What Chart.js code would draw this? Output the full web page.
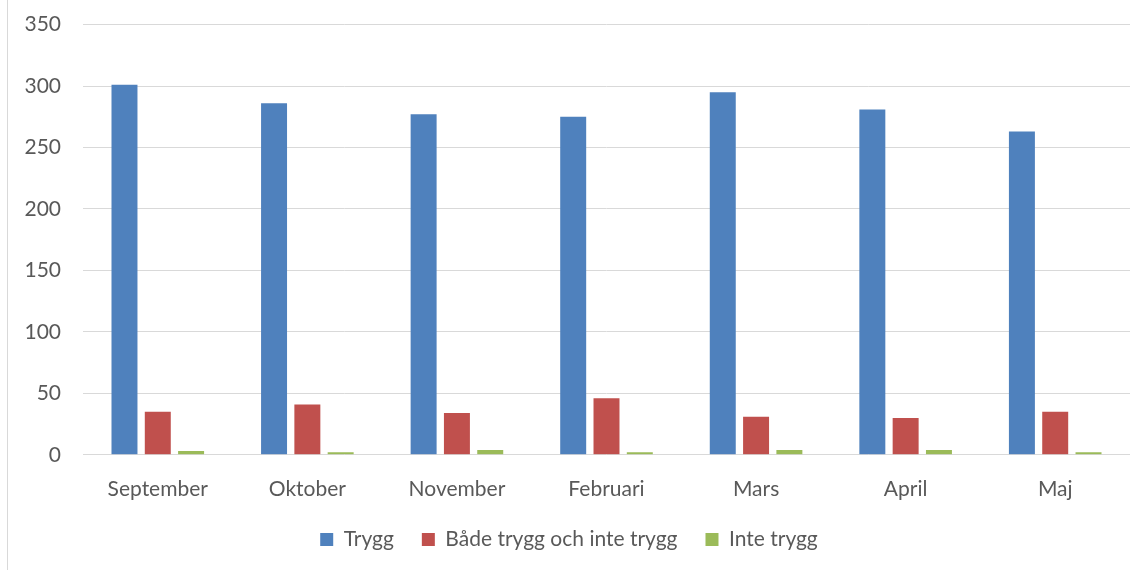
<!DOCTYPE html>
<html><head><meta charset="utf-8">
<script src="https://cdn.jsdelivr.net/npm/chart.js@4.4.1/dist/chart.umd.min.js"></script>
<style>
html,body{margin:0;padding:0;background:#fff;}
#wrap{position:absolute;left:7px;top:0;width:1138px;height:570px;border-left:1px solid #d9d9d9;}
canvas{display:block;}
</style></head>
<body>
<div id="wrap"><canvas id="c" width="1137" height="570"></canvas></div>
<script>
const categories = ["September","Oktober","November","Februari","Mars","April","Maj"];
const trygg = [301, 286, 277, 275, 295, 281, 263];
const badeTryggOchInte = [35, 41, 34, 46, 31, 30, 35];
const inteTrygg = [3, 2, 4, 2, 4, 4, 2];
const seriesNames = ["Trygg","Både trygg och inte trygg","Inte trygg"];
const yTicks = [0,50,100,150,200,250,300,350];

const font = "Lato, 'Open Sans', sans-serif";
new Chart(document.getElementById('c'), {
  type: 'bar',
  data: {
    labels: categories,
    datasets: [
      {label: seriesNames[0], data: trygg, backgroundColor: '#4F81BD'},
      {label: seriesNames[1], data: badeTryggOchInte, backgroundColor: '#C0504D'},
      {label: seriesNames[2], data: inteTrygg, backgroundColor: '#9BBB59'}
    ]
  },
  options: {
    responsive: false,
    animation: false,
    datasets: {bar: {categoryPercentage: 0.668, barPercentage: 0.78}},
    layout: {padding: {top: 0, right: 15, left: 0, bottom: 10}},
    plugins: {
      tooltip: {enabled: false},
      legend: {
        position: 'bottom',
        labels: {
          color: '#595959',
          font: {family: font, size: 21},
          boxWidth: 13, boxHeight: 13,
          padding: 28
        }
      }
    },
    scales: {
      x: {
        grid: {display: false},
        border: {display: false},
        afterFit: s => { s.height = s.height - 15; },
        ticks: {color: '#595959', font: {family: font, size: 21}, padding: 14}
      },
      y: {
        min: 0, max: 350,
        afterBuildTicks: s => { s.ticks = yTicks.map(v => ({value: v})); },
        afterFit: s => { s.width = 75; },
        grid: {color: '#d9d9d9', lineWidth: 1, drawTicks: true, tickLength: 10, tickColor: 'rgba(0,0,0,0)'},
        border: {display: false},
        ticks: {color: '#595959', font: {family: font, size: 21}, padding: 12}
      }
    }
  }
});
</script>
</body></html>
